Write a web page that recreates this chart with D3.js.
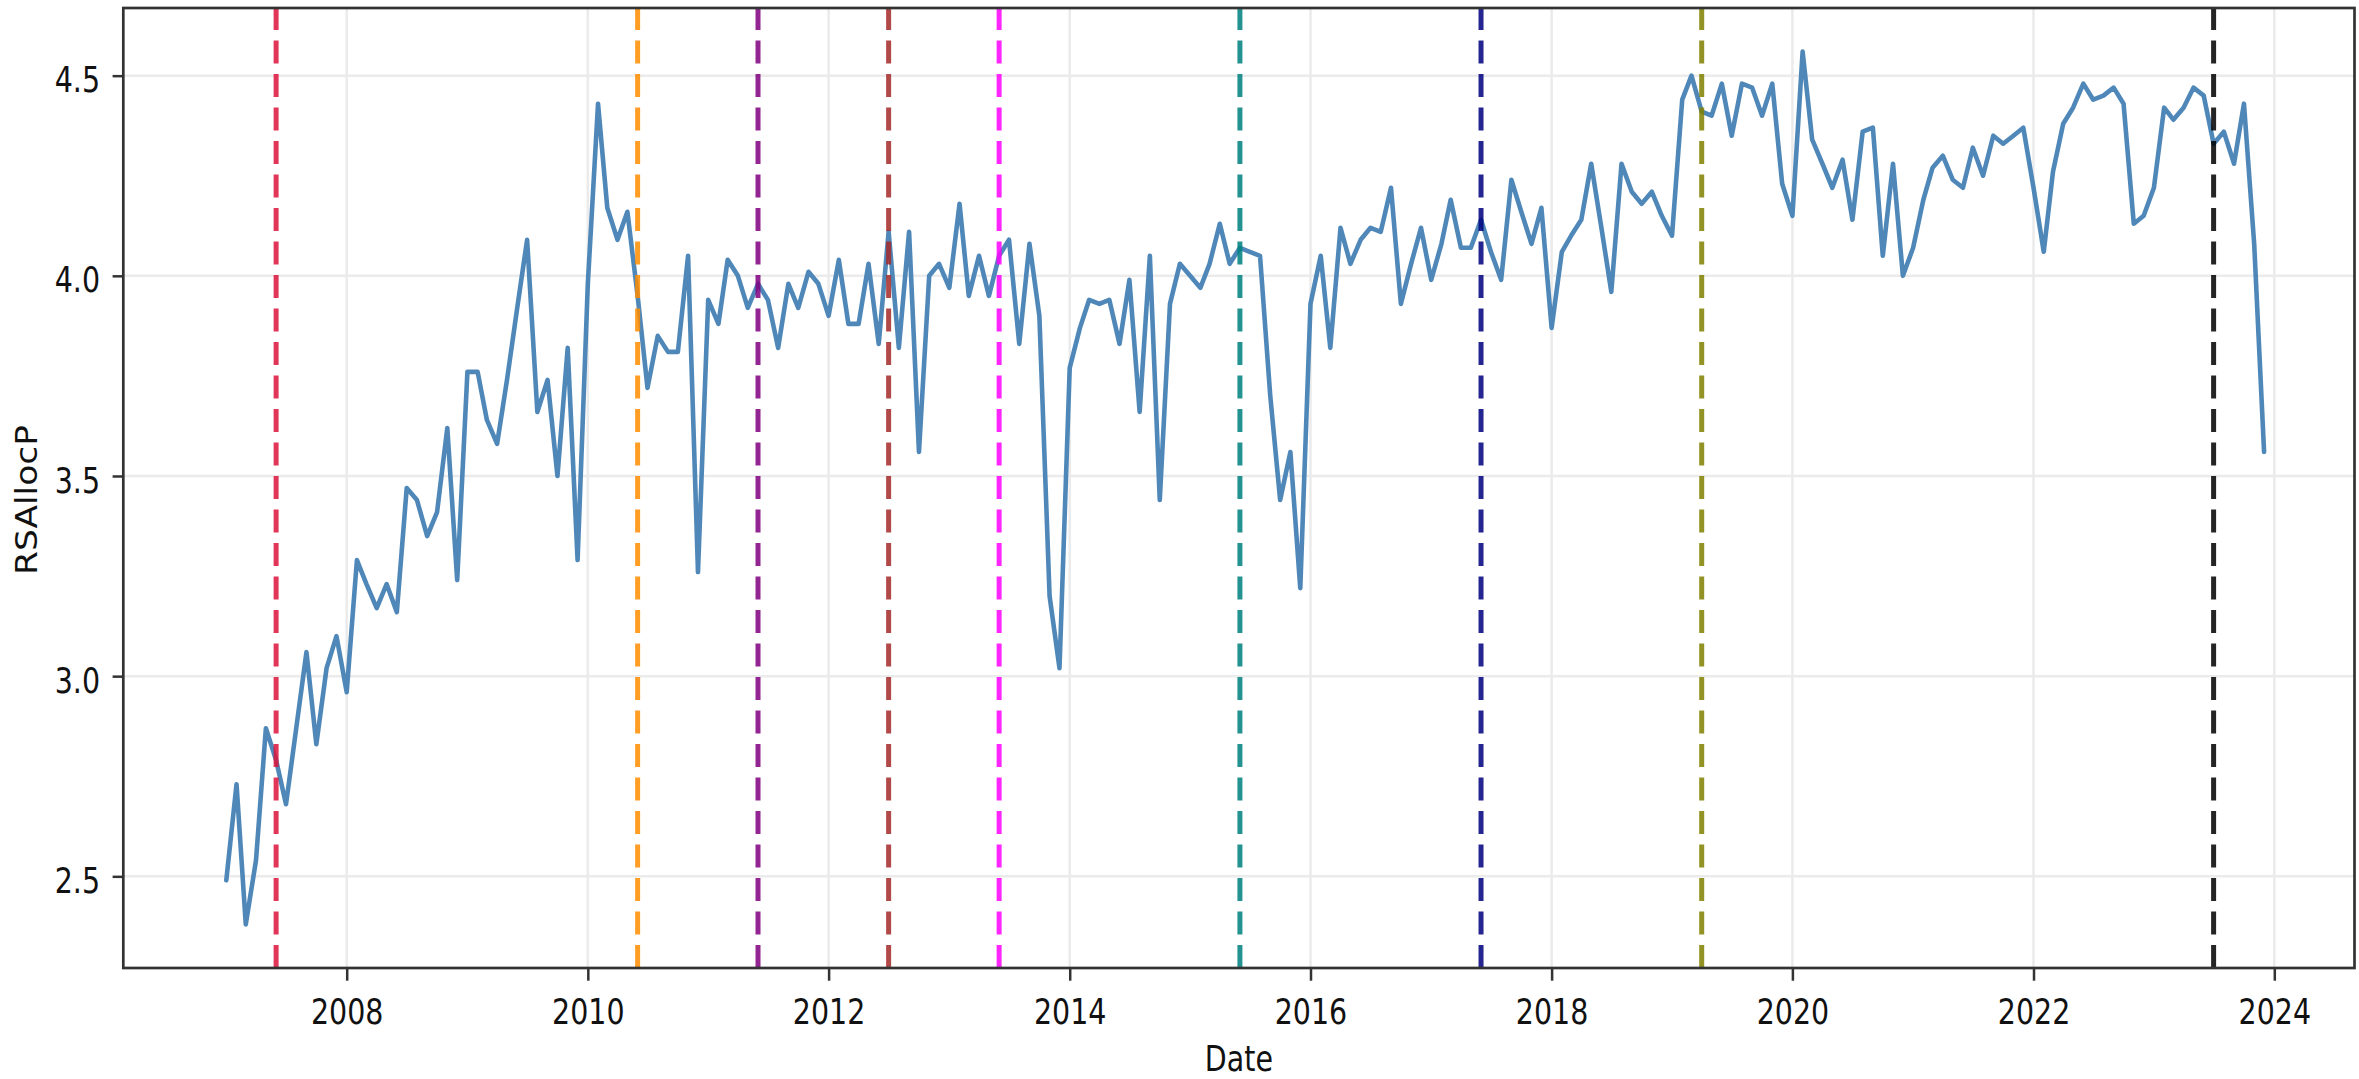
<!DOCTYPE html>
<html lang="en">

<head>
    <meta charset="UTF-8">
    <script src="https://cdnjs.cloudflare.com/ajax/libs/d3/7.8.5/d3.min.js" type="text/JavaScript"></script>
    <title>RSAllocP over time</title>
    <style>
        body { margin: 0; background: #fff; }
        svg { display: block; font-family: "DejaVu Sans", sans-serif; }
    </style>
</head>

<body>
    <svg width="2359" height="1079"></svg>
    <script>
        // monthly values, Jan 2007 .. Dec 2023
        const rsAllocP = [
            2.49, 2.73, 2.38, 2.54, 2.87, 2.79, 2.68, 2.87, 3.06, 2.83, 3.02, 3.10, // 2007
            2.96, 3.29, 3.23, 3.17, 3.23, 3.16, 3.47, 3.44, 3.35, 3.41, 3.62, 3.24, // 2008
            3.76, 3.76, 3.64, 3.58, 3.74, 3.92, 4.09, 3.66, 3.74, 3.50, 3.82, 3.29, // 2009
            3.98, 4.43, 4.17, 4.09, 4.16, 3.95, 3.72, 3.85, 3.81, 3.81, 4.05, 3.26, // 2010
            3.94, 3.88, 4.04, 4.00, 3.92, 3.98, 3.94, 3.82, 3.98, 3.92, 4.01, 3.98, // 2011
            3.90, 4.04, 3.88, 3.88, 4.03, 3.83, 4.11, 3.82, 4.11, 3.56, 4.00, 4.03, // 2012
            3.97, 4.18, 3.95, 4.05, 3.95, 4.05, 4.09, 3.83, 4.08, 3.90, 3.20, 3.02, // 2013
            3.77, 3.87, 3.94, 3.93, 3.94, 3.83, 3.99, 3.66, 4.05, 3.44, 3.93, 4.03, // 2014
            4.00, 3.97, 4.03, 4.13, 4.03, 4.07, 4.06, 4.05, 3.70, 3.44, 3.56, 3.22, // 2015
            3.93, 4.05, 3.82, 4.12, 4.03, 4.09, 4.12, 4.11, 4.22, 3.93, 4.03, 4.12, // 2016
            3.99, 4.08, 4.19, 4.07, 4.07, 4.14, 4.06, 3.99, 4.24, 4.16, 4.08, 4.17, // 2017
            3.87, 4.06, 4.10, 4.14, 4.28, 4.12, 3.96, 4.28, 4.21, 4.18, 4.21, 4.15, // 2018
            4.10, 4.44, 4.50, 4.41, 4.40, 4.48, 4.35, 4.48, 4.47, 4.40, 4.48, 4.23, // 2019
            4.15, 4.56, 4.34, 4.28, 4.22, 4.29, 4.14, 4.36, 4.37, 4.05, 4.28, 4.00, // 2020
            4.07, 4.19, 4.27, 4.30, 4.24, 4.22, 4.32, 4.25, 4.35, 4.33, 4.35, 4.37, // 2021
            4.22, 4.06, 4.26, 4.38, 4.42, 4.48, 4.44, 4.45, 4.47, 4.43, 4.13, 4.15, // 2022
            4.22, 4.42, 4.39, 4.42, 4.47, 4.45, 4.33, 4.36, 4.28, 4.43, 4.08, 3.56  // 2023
        ]
        const firstMonth = "2007-01-01"
        const lastMonth = "2023-12-01"

        const eventDates = ["2007-06-01", "2010-06-01", "2011-06-01", "2012-07-01", "2013-06-01",
            "2015-06-01", "2017-06-01", "2019-04-01", "2023-07-01"]
        const eventColors = ["crimson", "darkorange", "purple", "brown", "magenta",
            "teal", "navy", "olive", "black"]

        const xTickYears = [2008, 2010, 2012, 2014, 2016, 2018, 2020, 2022, 2024]
        const yTicks = [2.5, 3.0, 3.5, 4.0, 4.5]

        const parse = d3.timeParse("%Y-%m-%d")
        const months = d3.timeMonth.range(parse(firstMonth), d3.timeMonth.offset(parse(lastMonth), 1))
        const data = months.map((d, i) => ({ date: d, value: rsAllocP[i] }))

        // axes box (the source picture is stretched a bit vertically)
        const axLeft = 123.3, axRight = 2354.5, axTop = 8, axBottom = 968
        const stretch = 1.24

        const x = d3.scaleTime()
            .domain([new Date(2008, 0, 1), new Date(2024, 0, 1)])
            .range([346.7, 2274.3])
        x.domain([x.invert(axLeft), x.invert(axRight)]).range([axLeft, axRight])

        const [vMin, vMax] = d3.extent(rsAllocP)
        const pad = (vMax - vMin) * 0.05
        const y = d3.scaleLinear()
            .domain([vMin - pad, vMax + pad])
            .range([axBottom, axTop])

        const svg = d3.select("svg")

        // grid
        svg.append("g")
            .selectAll("line")
            .data(xTickYears)
            .enter()
            .append("line")
            .attr("x1", d => x(new Date(d, 0, 1)))
            .attr("x2", d => x(new Date(d, 0, 1)))
            .attr("y1", axTop)
            .attr("y2", axBottom)
            .style("stroke", "#ebebeb")
            .style("stroke-width", "2.5px")

        svg.append("g")
            .selectAll("line")
            .data(yTicks)
            .enter()
            .append("line")
            .attr("x1", axLeft)
            .attr("x2", axRight)
            .attr("y1", d => y(d))
            .attr("y2", d => y(d))
            .style("stroke", "#ebebeb")
            .style("stroke-width", "2.5px")

        // series
        const line = d3.line()
            .x(d => x(d.date))
            .y(d => y(d.value))

        svg.append("path")
            .datum(data)
            .attr("d", line)
            .style("fill", "none")
            .style("stroke", "steelblue")
            .style("stroke-width", "4.6px")
            .style("stroke-linejoin", "round")
            .style("stroke-linecap", "round")
            .style("opacity", 0.95)

        // event markers
        svg.append("g")
            .selectAll("line")
            .data(eventDates)
            .enter()
            .append("line")
            .attr("x1", d => x(parse(d)))
            .attr("x2", d => x(parse(d)))
            .attr("y1", axBottom)
            .attr("y2", axTop)
            .style("stroke", (d, i) => eventColors[i])
            .style("stroke-width", "5px")
            .style("stroke-dasharray", "23,10.5")
            .style("opacity", 0.85)

        // axes
        const xAxis = svg.append("g")
            .attr("transform", `translate(0,${axBottom})`)
            .call(d3.axisBottom(x)
                .tickValues(xTickYears.map(d => new Date(d, 0, 1)))
                .tickFormat(d3.timeFormat("%Y"))
                .tickSize(12.7))
        xAxis.select(".domain").remove()
        xAxis.selectAll(".tick line").style("stroke", "#333").style("stroke-width", "2.5px")
        xAxis.selectAll(".tick text")
            .attr("y", 56 / stretch)
            .attr("dy", null)
            .attr("transform", `scale(1,${stretch})`)
            .style("font-size", "28.5px")
            .style("fill", "#111")
            .style("font-family", "DejaVu Sans")

        const yAxis = svg.append("g")
            .attr("transform", `translate(${axLeft},0)`)
            .call(d3.axisLeft(y)
                .tickValues(yTicks)
                .tickFormat(d3.format(".1f"))
                .tickSize(10.7))
        yAxis.select(".domain").remove()
        yAxis.selectAll(".tick line").style("stroke", "#333").style("stroke-width", "2.5px")
        yAxis.selectAll(".tick text")
            .attr("x", -23.3)
            .attr("y", 16 / stretch)
            .attr("dy", null)
            .attr("transform", `scale(1,${stretch})`)
            .style("font-size", "28.5px")
            .style("fill", "#111")
            .style("font-family", "DejaVu Sans")

        // frame
        svg.append("rect")
            .attr("x", axLeft)
            .attr("y", axTop)
            .attr("width", axRight - axLeft)
            .attr("height", axBottom - axTop)
            .style("fill", "none")
            .style("stroke", "#333")
            .style("stroke-width", "2.7px")

        // labels
        svg.append("text")
            .attr("transform", `translate(${(axLeft + axRight) / 2},1071) scale(1,${stretch})`)
            .style("text-anchor", "middle")
            .style("font-size", "28.5px")
            .style("fill", "#111")
            .text("Date")

        svg.append("text")
            .attr("transform", "translate(37.3,500) rotate(-90) scale(1.17,1)")
            .style("text-anchor", "middle")
            .style("font-size", "29.5px")
            .style("fill", "#111")
            .text("RSAllocP")
    </script>
</body>

</html>
